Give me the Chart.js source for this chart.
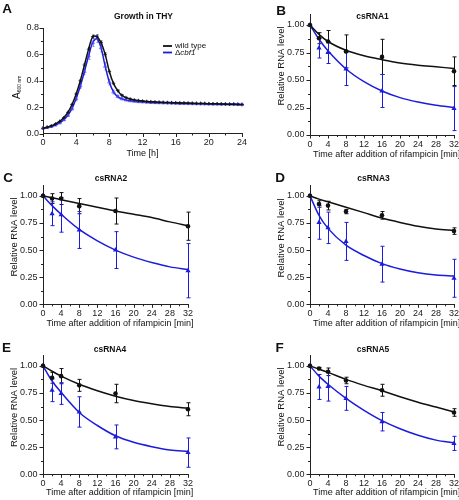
<!DOCTYPE html>
<html>
<head>
<meta charset="utf-8">
<script src="https://cdn.jsdelivr.net/npm/chart.js@4.4.1/dist/chart.umd.min.js"></script>
<style>
  body { margin: 0; background: #fff; }
  #fig { position: relative; width: 459px; height: 500px; }
  canvas { position: absolute; }
</style>
</head>
<body>
<div id="fig">
  <canvas id="pA" width="248" height="165" style="left:0;top:0"></canvas>
  <canvas id="pB" width="211" height="165" style="left:248px;top:0"></canvas>
  <canvas id="pC" width="248" height="170" style="left:0;top:165px"></canvas>
  <canvas id="pD" width="211" height="170" style="left:248px;top:165px"></canvas>
  <canvas id="pE" width="248" height="165" style="left:0;top:335px"></canvas>
  <canvas id="pF" width="211" height="165" style="left:248px;top:335px"></canvas>
</div>
<script>
// ---- panel A: growth in THY ----
const growthTime = [0, 0.5, 1, 1.5, 2, 2.5, 3, 3.5, 4, 4.5, 5, 5.5, 6, 6.5, 7, 7.5, 8, 8.5, 9, 9.5,
  10, 10.5, 11, 11.5, 12, 12.5, 13, 13.5, 14, 14.5, 15, 15.5, 16, 16.5, 17, 17.5, 18, 18.5, 19, 19.5,
  20, 20.5, 21, 21.5, 22, 22.5, 23, 23.5, 24];
const growthWT = [0.040, 0.048, 0.058, 0.072, 0.092, 0.120, 0.160, 0.220, 0.300, 0.400, 0.520, 0.640, 0.735, 0.735, 0.690, 0.600, 0.470, 0.380, 0.325, 0.290,
  0.272, 0.262, 0.255, 0.250, 0.246, 0.243, 0.241, 0.239, 0.237, 0.236, 0.235, 0.234, 0.233, 0.232, 0.231, 0.230, 0.229, 0.228, 0.228, 0.227,
  0.226, 0.225, 0.225, 0.224, 0.223, 0.222, 0.222, 0.221, 0.220];
const growthKO = [0.040, 0.045, 0.053, 0.064, 0.080, 0.104, 0.138, 0.190, 0.265, 0.360, 0.470, 0.590, 0.690, 0.720, 0.650, 0.510, 0.390, 0.315, 0.280, 0.263,
  0.254, 0.248, 0.244, 0.241, 0.239, 0.237, 0.235, 0.234, 0.233, 0.232, 0.231, 0.230, 0.229, 0.228, 0.228, 0.227, 0.226, 0.226, 0.225, 0.225,
  0.224, 0.223, 0.223, 0.222, 0.222, 0.221, 0.221, 0.220, 0.219];
const growthWTsd = [0.002, 0.002, 0.002, 0.003, 0.003, 0.004, 0.005, 0.006, 0.008, 0.010, 0.010, 0.012, 0.012, 0.012, 0.012, 0.012, 0.010, 0.008, 0.006, 0.005,
  0.004, 0.004, 0.003, 0.003, 0.003, 0.003, 0.003, 0.003, 0.003, 0.003, 0.003, 0.003, 0.003, 0.003, 0.003, 0.003, 0.003, 0.003, 0.003, 0.003,
  0.003, 0.003, 0.003, 0.003, 0.003, 0.003, 0.003, 0.003, 0.003];
const growthKOsd = [0.002, 0.003, 0.003, 0.004, 0.005, 0.006, 0.008, 0.012, 0.016, 0.020, 0.025, 0.028, 0.030, 0.030, 0.030, 0.028, 0.022, 0.015, 0.010, 0.008,
  0.006, 0.005, 0.004, 0.004, 0.004, 0.003, 0.003, 0.003, 0.003, 0.003, 0.003, 0.003, 0.003, 0.003, 0.003, 0.003, 0.003, 0.003, 0.003, 0.003,
  0.003, 0.003, 0.003, 0.003, 0.003, 0.003, 0.003, 0.003, 0.003];

// ---- panels B-F: RNA decay after rifampicin ----
const rnaTime = [0, 2, 4, 8, 16, 32];
const fitTime = [0, 2, 4, 8, 12, 16, 20, 24, 28, 32];

const cs1WT = [1.00, 0.88, 0.85, 0.76, 0.71, 0.58];
const cs1WTerr = [0, 0.05, 0.10, 0.15, 0.16, 0.13];
const cs1KO = [1.00, 0.79, 0.75, 0.60, 0.40, 0.24];
const cs1KOerr = [0, 0.09, 0.10, 0.15, 0.15, 0.20];
const cs1WTfit = [1, 0.915, 0.85, 0.77, 0.72, 0.685, 0.655, 0.635, 0.62, 0.605];
const cs1KOfit = [1, 0.87, 0.765, 0.60, 0.485, 0.40, 0.34, 0.30, 0.27, 0.25];

const cs2WT = [1.00, 0.975, 0.975, 0.905, 0.86, 0.72];
const cs2WTerr = [0, 0.045, 0.055, 0.07, 0.12, 0.13];
const cs2KO = [1.00, 0.835, 0.825, 0.685, 0.50, 0.31];
const cs2KOerr = [0, 0.11, 0.16, 0.17, 0.17, 0.25];
const cs2WTfit = [1, 0.982, 0.965, 0.93, 0.895, 0.86, 0.83, 0.80, 0.76, 0.725];
const cs2KOfit = [1, 0.91, 0.83, 0.69, 0.585, 0.50, 0.435, 0.385, 0.345, 0.32];

const cs3WT = [1.00, 0.925, 0.91, 0.855, 0.82, 0.675];
const cs3WTerr = [0, 0.03, 0.04, 0.02, 0.035, 0.03];
const cs3KO = [1.00, 0.755, 0.705, 0.58, 0.37, 0.24];
const cs3KOerr = [0, 0.155, 0.145, 0.175, 0.165, 0.175];
const cs3WTfit = [1, 0.97, 0.945, 0.895, 0.845, 0.795, 0.755, 0.72, 0.695, 0.68];
const cs3KOfit = [1, 0.82, 0.70, 0.545, 0.45, 0.375, 0.325, 0.29, 0.27, 0.262];

const cs4WT = [1.00, 0.89, 0.905, 0.82, 0.745, 0.60];
const cs4WTerr = [0, 0.05, 0.07, 0.055, 0.085, 0.06];
const cs4KO = [1.00, 0.775, 0.745, 0.575, 0.345, 0.20];
const cs4KOerr = [0, 0.105, 0.10, 0.14, 0.11, 0.135];
const cs4WTfit = [1, 0.95, 0.905, 0.83, 0.77, 0.72, 0.68, 0.65, 0.625, 0.61];
const cs4KOfit = [1, 0.86, 0.755, 0.57, 0.45, 0.355, 0.295, 0.255, 0.225, 0.21];

const cs5WT = [1.00, 0.975, 0.945, 0.865, 0.775, 0.57];
const cs5WTerr = [0, 0.01, 0.035, 0.03, 0.055, 0.035];
const cs5KO = [1.00, 0.805, 0.81, 0.70, 0.485, 0.285];
const cs5KOerr = [0, 0.115, 0.135, 0.11, 0.085, 0.065];
const cs5WTfit = [1, 0.97, 0.94, 0.875, 0.82, 0.77, 0.715, 0.665, 0.62, 0.575];
const cs5KOfit = [1, 0.905, 0.83, 0.70, 0.59, 0.495, 0.42, 0.36, 0.315, 0.29];

const BLACK = '#111';
const BLUE = '#1c1cdc';
const FONT = "'Liberation Sans', Arial, sans-serif";
Chart.defaults.font.family = FONT;
Chart.defaults.color = '#1a1a1a';

const xy = (xs, ys) => xs.map((x, i) => ({ x: x, y: ys[i] }));
const isMajor = (v, step) => Math.abs(v / step - Math.round(v / step)) < 1e-6;

// vertical error bars with caps, drawn behind the markers
const errorBars = {
  id: 'errorBars',
  beforeDatasetsDraw(chart) {
    const ctx = chart.ctx;
    const ys = chart.scales.y;
    chart.data.datasets.forEach((ds, i) => {
      if (!ds.errors) return;
      const meta = chart.getDatasetMeta(i);
      ctx.save();
      ctx.strokeStyle = ds.errorColor || ds.borderColor;
      ctx.lineWidth = 1;
      meta.data.forEach((pt, j) => {
        const e = ds.errors[j];
        if (!e) return;
        const v = ds.data[j].y;
        const top = ys.getPixelForValue(v + e);
        const bot = ys.getPixelForValue(v - e);
        const x = Math.round(pt.x) + 0.5;
        const c = ds.capWidth;
        ctx.beginPath();
        ctx.moveTo(x, top); ctx.lineTo(x, bot);
        if (c) {
          ctx.moveTo(x - c, top); ctx.lineTo(x + c, top);
          ctx.moveTo(x - c, bot); ctx.lineTo(x + c, bot);
        }
        ctx.stroke();
      });
      ctx.restore();
    });
  }
};

// outward tick marks: long at labelled values, short in between
const tickMarks = {
  id: 'tickMarks',
  afterDraw(chart, args, opts) {
    const ctx = chart.ctx;
    const xs = chart.scales.x, ys = chart.scales.y;
    ctx.save();
    ctx.strokeStyle = '#222';
    ctx.lineWidth = 1;
    ctx.beginPath();
    xs.ticks.forEach(t => {
      const px = Math.round(xs.getPixelForValue(t.value)) + 0.5;
      const len = isMajor(t.value, opts.xMajor) ? 3.5 : 2;
      ctx.moveTo(px, xs.top); ctx.lineTo(px, xs.top + len);
    });
    ys.ticks.forEach(t => {
      const py = Math.round(ys.getPixelForValue(t.value)) + 0.5;
      const len = isMajor(t.value, opts.yMajor) ? 3.5 : 2;
      ctx.moveTo(ys.right, py); ctx.lineTo(ys.right - len, py);
    });
    ctx.stroke();
    ctx.restore();
  }
};

// panel letter, title and axis titles
const panelText = {
  id: 'panelText',
  afterDraw(chart, args, o) {
    const ctx = chart.ctx;
    ctx.save();
    ctx.fillStyle = '#111';
    ctx.textBaseline = 'middle';
    ctx.textAlign = 'center';
    ctx.font = 'bold 13.5px ' + FONT;
    ctx.fillText(o.letter, o.letterPos[0], o.letterPos[1]);
    ctx.font = 'bold 8.5px ' + FONT;
    ctx.fillText(o.title, o.titlePos[0], o.titlePos[1]);
    ctx.font = '9px ' + FONT;
    ctx.fillText(o.xTitle, o.xTitlePos[0], o.xTitlePos[1]);
    ctx.translate(o.yTitlePos[0], o.yTitlePos[1]);
    ctx.rotate(-Math.PI / 2);
    if (o.yTitle === 'A600') {
      ctx.textAlign = 'left';
      ctx.font = '10px ' + FONT;
      const w = ctx.measureText('A').width;
      ctx.fillText('A', -11, 0);
      ctx.font = '5px ' + FONT;
      ctx.fillText('600 nm', -11 + w, 2.5);
    } else {
      ctx.font = '9.5px ' + FONT;
      ctx.fillText(o.yTitle, 0, 0);
    }
    ctx.restore();
  }
};

// legend inside panel A
const growthLegend = {
  id: 'growthLegend',
  afterDraw(chart) {
    const ctx = chart.ctx;
    ctx.save();
    ctx.lineWidth = 1.8;
    ctx.strokeStyle = BLACK;
    ctx.beginPath(); ctx.moveTo(163, 46); ctx.lineTo(172, 46); ctx.stroke();
    ctx.strokeStyle = BLUE;
    ctx.beginPath(); ctx.moveTo(163, 52.5); ctx.lineTo(172, 52.5); ctx.stroke();
    ctx.fillStyle = '#111';
    ctx.textBaseline = 'middle';
    ctx.font = '8px ' + FONT;
    ctx.fillText('wild type', 175, 46);
    ctx.fillText('\u0394', 175, 53);
    const w = ctx.measureText('\u0394').width;
    ctx.font = 'italic 8px ' + FONT;
    ctx.fillText('cbf1', 175 + w, 53);
    ctx.restore();
  }
};

function fixedScale(size, horizontal) {
  return s => {
    if (horizontal) s.height = size; else s.width = size;
    s.paddingLeft = 0; s.paddingRight = 0; s.paddingTop = 0; s.paddingBottom = 0;
  };
}

function buildOptions(g, x, y, text) {
  return {
    responsive: false,
    animation: false,
    layout: { padding: { left: 0, right: g.padR, top: g.padT, bottom: 0 } },
    scales: {
      x: {
        type: 'linear', min: x.min, max: x.max,
        grid: { display: false, drawTicks: false },
        border: { display: true, color: '#222', width: 1 },
        ticks: {
          stepSize: x.minor, autoSkip: false, maxRotation: 0, padding: 4,
          font: { size: 9 },
          callback: v => isMajor(v, x.major) ? String(v) : ''
        },
        afterFit: fixedScale(g.xH, true)
      },
      y: {
        type: 'linear', min: y.min, max: y.max,
        grid: { display: false, drawTicks: false },
        border: { display: true, color: '#222', width: 1 },
        ticks: {
          stepSize: y.minor, autoSkip: false, padding: g.yPad,
          font: { size: 9 },
          callback: v => isMajor(v, y.major) ? v.toFixed(y.digits) : ''
        },
        afterBuildTicks: s => { s.ticks = s.ticks.filter(t => t.value <= y.top + 1e-6); },
        afterFit: fixedScale(g.yW, false)
      }
    },
    plugins: {
      legend: { display: false },
      tooltip: { enabled: false },
      tickMarks: { xMajor: x.major, yMajor: y.major },
      panelText: text
    }
  };
}

// panel A
new Chart(document.getElementById('pA'), {
  type: 'line',
  data: {
    datasets: [
      {
        data: xy(growthTime, growthWT), errors: growthWTsd, capWidth: 1,
        borderColor: BLACK, borderWidth: 1.5, errorColor: 'rgba(20,20,20,0.7)',
        pointStyle: 'cross', pointRadius: 1.8, pointBorderWidth: 0.8,
        pointBorderColor: BLACK, tension: 0.3, clip: false
      },
      {
        data: xy(growthTime, growthKO), errors: growthKOsd, capWidth: 1,
        borderColor: BLUE, borderWidth: 1.5, errorColor: 'rgba(70,70,255,0.55)',
        pointStyle: 'triangle', pointRadius: 2, pointBorderWidth: 0.8,
        pointBorderColor: 'rgba(60,60,255,0.7)', pointBackgroundColor: 'rgba(120,120,255,0.35)',
        tension: 0.3, clip: false
      }
    ]
  },
  options: buildOptions(
    { padR: 6, padT: 28, xH: 31.5, yW: 43, yPad: 4 },
    { min: 0, max: 24, minor: 2, major: 4 },
    { min: 0, max: 0.8, top: 0.8, minor: 0.1, major: 0.2, digits: 1 },
    { letter: 'A', letterPos: [7, 9], title: 'Growth in THY', titlePos: [143.5, 17],
      xTitle: 'Time [h]', xTitlePos: [142.5, 153.5], yTitle: 'A600', yTitlePos: [17, 88] }
  ),
  plugins: [errorBars, tickMarks, panelText, growthLegend]
});

function rnaPanel(id, g, text, wt, wtErr, ko, koErr, wtFit, koFit) {
  new Chart(document.getElementById(id), {
    type: 'line',
    data: {
      datasets: [
        {
          data: xy(rnaTime, wt), errors: wtErr, capWidth: 2,
          showLine: false, borderColor: BLACK, backgroundColor: BLACK,
          pointStyle: 'circle', pointRadius: 2.3, pointBorderWidth: 0, clip: false
        },
        {
          data: xy(rnaTime, ko), errors: koErr, capWidth: 2,
          showLine: false, borderColor: BLUE, backgroundColor: BLUE,
          pointStyle: 'triangle', pointRadius: 3, pointBorderWidth: 0, clip: false
        },
        {
          data: xy(fitTime, wtFit), borderColor: BLACK, borderWidth: 1.5,
          pointRadius: 0, cubicInterpolationMode: 'monotone', clip: false
        },
        {
          data: xy(fitTime, koFit), borderColor: BLUE, borderWidth: 1.5,
          pointRadius: 0, cubicInterpolationMode: 'monotone', clip: false
        }
      ]
    },
    options: buildOptions(
      g,
      { min: 0, max: 32, minor: 2, major: 4 },
      { min: 0, max: 1.1, top: 1.0, minor: 0.125, major: 0.25, digits: 2 },
      text
    ),
    plugins: [errorBars, tickMarks, panelText]
  });
}

const xLabel = 'Time after addition of rifampicin [min]';
const yLabel = 'Relative RNA level';

rnaPanel('pB', { padR: 5, padT: 14, xH: 30, yW: 62, yPad: 5.5 },
  { letter: 'B', letterPos: [33, 11], title: 'csRNA1', titlePos: [124.5, 17],
    xTitle: xLabel, xTitlePos: [138.7, 155], yTitle: yLabel, yTitlePos: [33, 66] },
  cs1WT, cs1WTerr, cs1KO, cs1KOerr, cs1WTfit, cs1KOfit);

rnaPanel('pC', { padR: 60, padT: 20, xH: 30.7, yW: 43, yPad: 5.5 },
  { letter: 'C', letterPos: [8, 13], title: 'csRNA2', titlePos: [111, 14],
    xTitle: xLabel, xTitlePos: [120, 159], yTitle: yLabel, yTitlePos: [14, 72] },
  cs2WT, cs2WTerr, cs2KO, cs2KOerr, cs2WTfit, cs2KOfit);

rnaPanel('pD', { padR: 5, padT: 20, xH: 30.7, yW: 62, yPad: 5.5 },
  { letter: 'D', letterPos: [32, 13], title: 'csRNA3', titlePos: [125.5, 14],
    xTitle: xLabel, xTitlePos: [138.7, 159], yTitle: yLabel, yTitlePos: [33, 73] },
  cs3WT, cs3WTerr, cs3KO, cs3KOerr, cs3WTfit, cs3KOfit);

rnaPanel('pE', { padR: 60, padT: 20, xH: 25.7, yW: 43, yPad: 5.5 },
  { letter: 'E', letterPos: [6.5, 13.5], title: 'csRNA4', titlePos: [110, 15],
    xTitle: xLabel, xTitlePos: [119.7, 158], yTitle: yLabel, yTitlePos: [14, 72.5] },
  cs4WT, cs4WTerr, cs4KO, cs4KOerr, cs4WTfit, cs4KOfit);

rnaPanel('pF', { padR: 5, padT: 20, xH: 25.7, yW: 62, yPad: 5.5 },
  { letter: 'F', letterPos: [31.5, 13.5], title: 'csRNA5', titlePos: [125, 15],
    xTitle: xLabel, xTitlePos: [138.7, 158], yTitle: yLabel, yTitlePos: [33, 72] },
  cs5WT, cs5WTerr, cs5KO, cs5KOerr, cs5WTfit, cs5KOfit);
</script>
</body>
</html>
